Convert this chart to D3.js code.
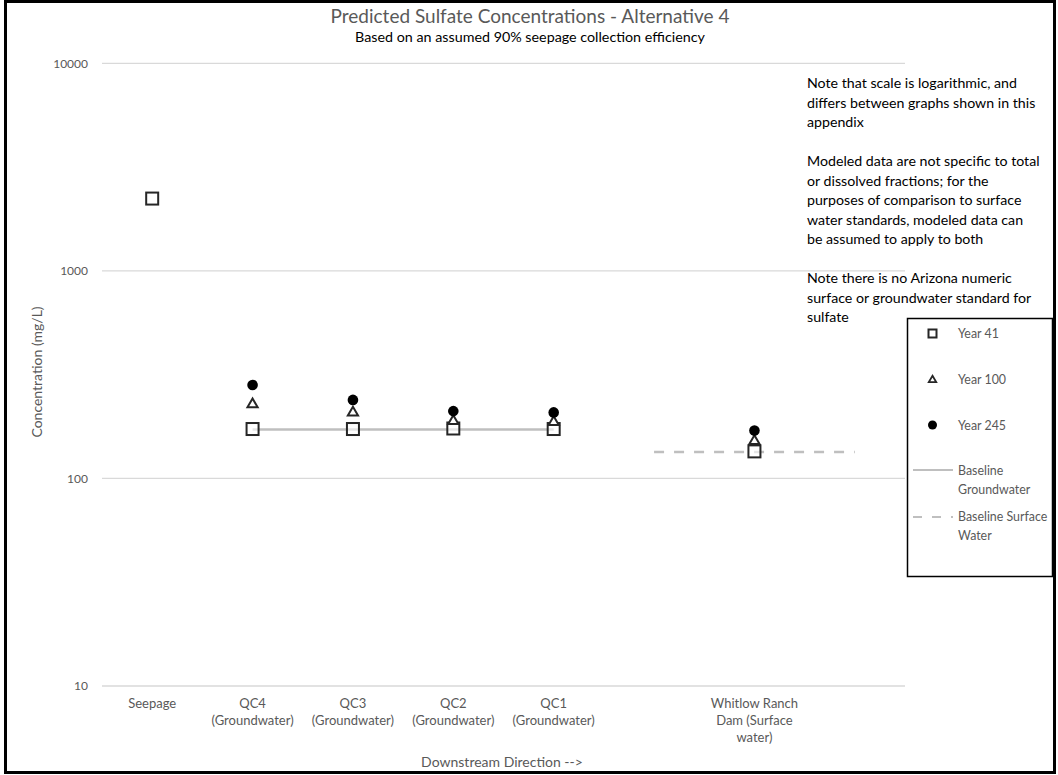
<!DOCTYPE html>
<html><head><meta charset="utf-8">
<script src="https://cdn.jsdelivr.net/npm/d3@7"></script>
<style>
body{margin:0;background:#fff;}
svg{display:block;font-family:Lato,"Open Sans",sans-serif;}
</style></head>
<body><svg id="c" width="1058" height="775"></svg>
<script>
const categories = ["Seepage","QC4\n(Groundwater)","QC3\n(Groundwater)","QC2\n(Groundwater)","QC1\n(Groundwater)","","Whitlow Ranch\nDam (Surface\nwater)",""];
const year41  = [2230, 173, 173, 174, 173, null, 135, null];
const year100 = [null, 230, 210, 191, 189, null, 153, null];
const year245 = [null, 282, 239, 211, 208, null, 170, null];
const baselineGW = [null, 172, 172, 172, 172, null, null, null];
const baselineSW = [null, null, null, null, null, 134, 134, 134];
const yTicks = [10, 100, 1000, 10000];
const title = "Predicted Sulfate Concentrations - Alternative 4";
const subtitle = "Based on an assumed 90% seepage collection efficiency";
const notes = [
 ["Note that scale is logarithmic, and","differs between graphs shown in this","appendix"],
 ["Modeled data are not specific to total","or dissolved fractions; for the","purposes of comparison to surface","water standards, modeled data can","be assumed to apply to both"],
 ["Note there is no Arizona numeric","surface or groundwater standard for","sulfate"]
];

const svg = d3.select("#c");
const L=102, R=905, T=63.3, B=686;
const x = d3.scaleBand().domain(d3.range(categories.length)).range([L,R]);
const y = d3.scaleLog().domain([10,10000]).range([B,T]);
const cx = i => x(i)+x.bandwidth()/2;

// border
svg.append("rect").attr("x",5.5).attr("y",1.5).attr("width",1049).attr("height",771)
  .attr("fill","none").attr("stroke","#000").attr("stroke-width",3);

// gridlines
svg.append("g").selectAll("line").data(yTicks).join("line")
  .attr("x1",L).attr("x2",R).attr("y1",d=>y(d)).attr("y2",d=>y(d))
  .attr("stroke","#d9d9d9").attr("stroke-width",1.3);

// y axis
const yAxis = d3.axisLeft(y).tickValues(yTicks).tickFormat(d3.format("d")).tickSize(0).tickPadding(14);
const ga = svg.append("g").attr("transform",`translate(${L},0)`).call(yAxis);
ga.select(".domain").remove();
ga.selectAll("text").attr("fill","#595959").style("font-size","12px").style("font-family","Lato,sans-serif");

// x labels
const gx = svg.append("g");
categories.forEach((c,i)=>{
  const lines = c.split("\n");
  const t = gx.append("text").attr("x",cx(i)).attr("y",708).attr("text-anchor","middle")
    .attr("fill","#595959").style("font-size","13px");
  lines.forEach((ln,j)=>t.append("tspan").attr("x",cx(i)).attr("dy",j?17:0).text(ln));
});

// axis titles
svg.append("text").attr("transform","translate(42,372) rotate(-90)").attr("text-anchor","middle")
  .attr("fill","#595959").style("font-size","14px").text("Concentration (mg/L)");
svg.append("text").attr("x",502).attr("y",767).attr("text-anchor","middle")
  .attr("fill","#595959").style("font-size","14px").text("Downstream Direction -->");

// title
svg.append("text").attr("x",530).attr("y",23).attr("text-anchor","middle")
  .attr("fill","#595959").style("font-size","19px").text(title);
svg.append("text").attr("x",530).attr("y",42).attr("text-anchor","middle")
  .attr("fill","#000").style("font-size","14.3px").text(subtitle);

// baselines
const lineGen = d3.line().defined(d=>d.v!=null).x(d=>cx(d.i)).y(d=>y(d.v));
svg.append("path").datum(baselineGW.map((v,i)=>({v,i})))
  .attr("d",lineGen).attr("fill","none").attr("stroke","#bfbfbf").attr("stroke-width",2.5);
svg.append("path").datum(baselineSW.map((v,i)=>({v,i})))
  .attr("d",lineGen).attr("fill","none").attr("stroke","#bfbfbf").attr("stroke-width",2.5)
  .attr("stroke-dasharray","10,10");

// markers
const sq = 12, tri = d3.symbol().type(d3.symbolTriangle).size(45);
svg.append("g").selectAll("rect").data(year41.map((v,i)=>({v,i})).filter(d=>d.v!=null)).join("rect")
  .attr("x",d=>cx(d.i)-sq/2).attr("y",d=>y(d.v)-sq/2).attr("width",sq).attr("height",sq)
  .attr("fill","#fff").attr("fill-opacity",0.6).attr("stroke","#262626").attr("stroke-width",2);
svg.append("g").selectAll("path").data(year100.map((v,i)=>({v,i})).filter(d=>d.v!=null)).join("path")
  .attr("d",tri).attr("transform",d=>`translate(${cx(d.i)},${y(d.v)+1})`)
  .attr("fill","#fff").attr("stroke","#262626").attr("stroke-width",2);
svg.append("g").selectAll("circle").data(year245.map((v,i)=>({v,i})).filter(d=>d.v!=null)).join("circle")
  .attr("cx",d=>cx(d.i)).attr("cy",d=>y(d.v)).attr("r",5.3).attr("fill","#000");

// notes
let ny = 88;
const gn = svg.append("g");
notes.forEach(block=>{
  block.forEach(ln=>{ gn.append("text").attr("x",807).attr("y",ny).attr("fill","#000").style("font-size","14.2px").text(ln); ny+=19.5; });
  ny += 19.5;
});

// legend
const lg = svg.append("g");
lg.append("rect").attr("x",907.5).attr("y",318.5).attr("width",145).attr("height",258)
  .attr("fill","#fff").attr("stroke","#000").attr("stroke-width",1.5);
const lt = (txt,yy)=>lg.append("text").attr("x",958).attr("y",yy).attr("fill","#595959").style("font-size","12.4px").text(txt);
lg.append("rect").attr("x",928.5).attr("y",329.5).attr("width",8).attr("height",8).attr("fill","#fff").attr("stroke","#262626").attr("stroke-width",2);
lt("Year 41",338);
lg.append("path").attr("d",d3.symbol().type(d3.symbolTriangle).size(24)).attr("transform","translate(932.5,380)")
  .attr("fill","#fff").attr("stroke","#262626").attr("stroke-width",1.8);
lt("Year 100",384);
lg.append("circle").attr("cx",932.5).attr("cy",425).attr("r",4.5).attr("fill","#000");
lt("Year 245",430);
lg.append("line").attr("x1",913).attr("x2",953).attr("y1",470).attr("y2",470).attr("stroke","#bfbfbf").attr("stroke-width",2);
lt("Baseline",475); lt("Groundwater",494);
lg.append("line").attr("x1",913).attr("x2",953).attr("y1",517).attr("y2",517).attr("stroke","#bfbfbf").attr("stroke-width",2).attr("stroke-dasharray","9,10");
lt("Baseline Surface",521); lt("Water",540);
</script></body></html>
